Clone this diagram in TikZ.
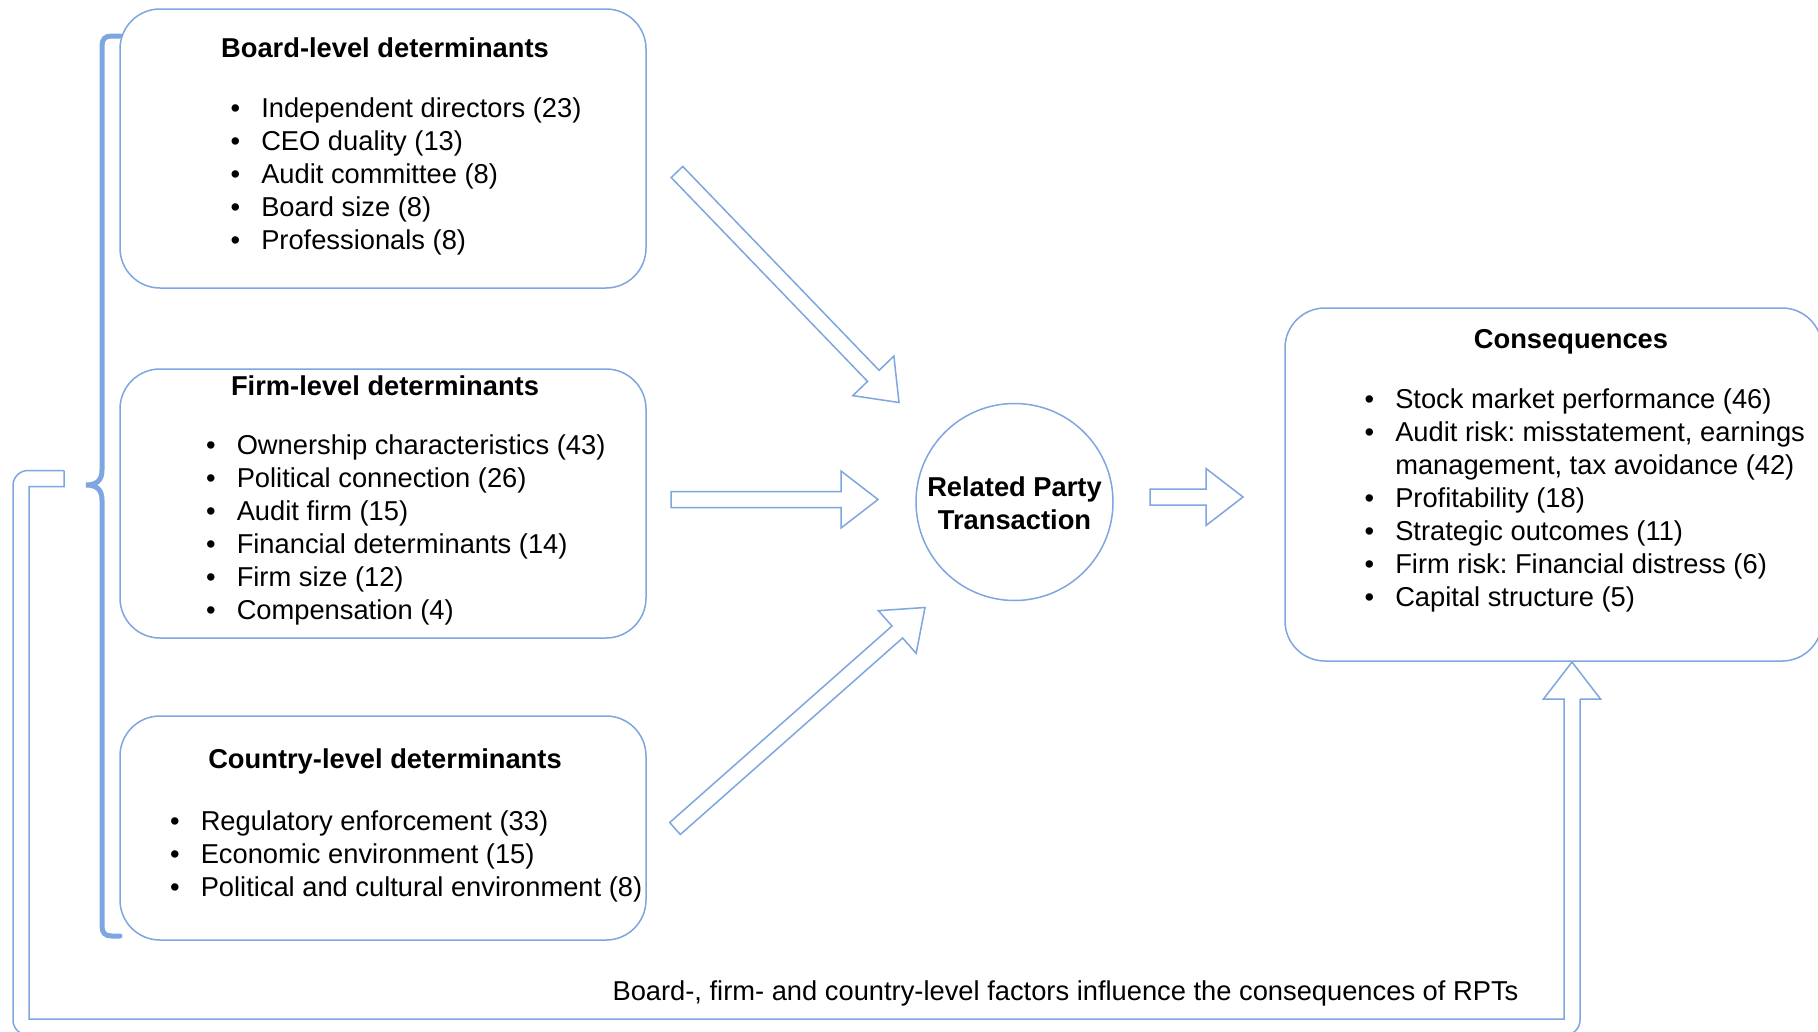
\documentclass[tikz,border=0pt]{standalone}
\usepackage{fontspec}
\setmainfont{Liberation Sans}
\usetikzlibrary{calc}
\definecolor{lb}{HTML}{7EA6E0}
\frenchspacing
\tikzset{
  box/.style={draw=lb, line width=1.5pt, rounded corners=40pt, inner sep=0pt, outer sep=0pt, anchor=north west},
  ttl/.style={font=\fontsize{27.3}{33}\selectfont\bfseries\frenchspacing, inner sep=0pt, anchor=base},
  lst/.style={font=\fontsize{27.3}{33}\selectfont\frenchspacing, inner sep=0pt, anchor=base west},
  barrow/.style={draw=lb, line width=1.5pt, line join=miter, fill=white},
  bracestyle/.style={draw=lb, line width=5pt, line cap=round},
}
\newcommand\blockarrow[3]{%
  \coordinate (#3h) at ($(#2)!37pt!(#1)$);
  \draw[barrow] ($(#1)!8pt!90:(#2)$) -- ($(#3h)!8pt!90:(#2)$) -- ($(#3h)!28.5pt!90:(#2)$) -- (#2)
     -- ($(#3h)!28.5pt!-90:(#2)$) -- ($(#3h)!8pt!-90:(#2)$) -- ($(#1)!8pt!-90:(#2)$) -- cycle;}
\newcommand\blist[1]{\begin{tabular}[t]{@{}l@{\hspace{21pt}}l@{}}#1\end{tabular}}
\begin{document}
\begin{tikzpicture}[x=1pt,y=-1pt]
\fill[white] (0,0) rectangle (1818,1031);
\useasboundingbox (0,0) rectangle (1818,1031);

% boxes
\node[box, minimum width=526pt, minimum height=279pt] (board) at (120,9) {};
\node[box, minimum width=526pt, minimum height=269pt] (firm) at (120,369) {};
\node[box, minimum width=526pt, minimum height=224pt] (country) at (120,716) {};
\node[box, minimum width=537pt, minimum height=353pt] (cons) at (1285,308) {};
\node[circle, draw=lb, line width=1.5pt, minimum size=197pt, inner sep=0pt] (rpt) at (1014.5,502) {};

% titles
\node[ttl] (boardT) at (385,57) {Board-level determinants};
\node[ttl] (firmT) at (385,395.5) {Firm-level determinants};
\node[ttl] (countryT) at (385,768.5) {Country-level determinants};
\node[ttl] (consT) at (1571,348) {Consequences};
\node[ttl, anchor=center, align=center] (rptT) at (1014.5,503) {Related Party\\Transaction};

% lists
\node[lst] (boardL) at (230.5,117.5) {\blist{%
\textbullet & Independent directors (23)\\
\textbullet & CEO duality (13)\\
\textbullet & Audit committee (8)\\
\textbullet & Board size (8)\\
\textbullet & Professionals (8)}};
\node[lst] (firmL) at (206,454.5) {\blist{%
\textbullet & Ownership characteristics (43)\\
\textbullet & Political connection (26)\\
\textbullet & Audit firm (15)\\
\textbullet & Financial determinants (14)\\
\textbullet & Firm size (12)\\
\textbullet & Compensation (4)}};
\node[lst] (countryL) at (170,830.5) {\blist{%
\textbullet & Regulatory enforcement (33)\\
\textbullet & Economic environment (15)\\
\textbullet & Political and cultural environment (8)}};
\node[lst] (consL) at (1364.5,408.5) {\blist{%
\textbullet & Stock market performance (46)\\
\textbullet & Audit risk: misstatement, earnings\\
 & management, tax avoidance (42)\\
\textbullet & Profitability (18)\\
\textbullet & Strategic outcomes (11)\\
\textbullet & Firm risk: Financial distress (6)\\
\textbullet & Capital structure (5)}};

% bottom note
\node[lst, anchor=base] (note) at (1065.5,1000.5) {Board-, firm- and country-level factors influence the consequences of RPTs};

% block arrows
\coordinate (a1t) at (677,172);   \coordinate (a1e) at (899,402.5);
\coordinate (a2t) at (671,499.5); \coordinate (a2e) at (878,499.5);
\coordinate (a3t) at (675,828.5); \coordinate (a3e) at (925,607.5);
\coordinate (a4t) at (1150,497);  \coordinate (a4e) at (1243,497);
\blockarrow{a1t}{a1e}{a1}
\blockarrow{a2t}{a2e}{a2}
\blockarrow{a3t}{a3e}{a3}
\blockarrow{a4t}{a4e}{a4}

% brace
\draw[bracestyle] (120,36) -- (112,36) .. controls (105,36) and (102,39) .. (102,46) -- (102,470)
  .. controls (102,480) and (97,485) .. (86,485) .. controls (97,485) and (102,490) .. (102,500)
  -- (102,926) .. controls (102,933) and (105,936) .. (112,936) -- (120,936);

% feedback arrow
\coordinate (fbs) at (64,478.5);
\coordinate (fbe) at (1572,662);
\draw[barrow, fill=none, rounded corners=15pt] (64,470.5) -- (13,470.5) -- (13,1035) -- (1580,1035) -- (1580,699);
\draw[barrow, fill=none] (1580,699) -- (1600.5,699) -- (fbe) -- (1543.5,699) -- (1564,699) -- (1564,1019)
  -- (29,1019) -- (29,486.5) -- (64,486.5) -- (64,470.5);
\end{tikzpicture}
\end{document}
